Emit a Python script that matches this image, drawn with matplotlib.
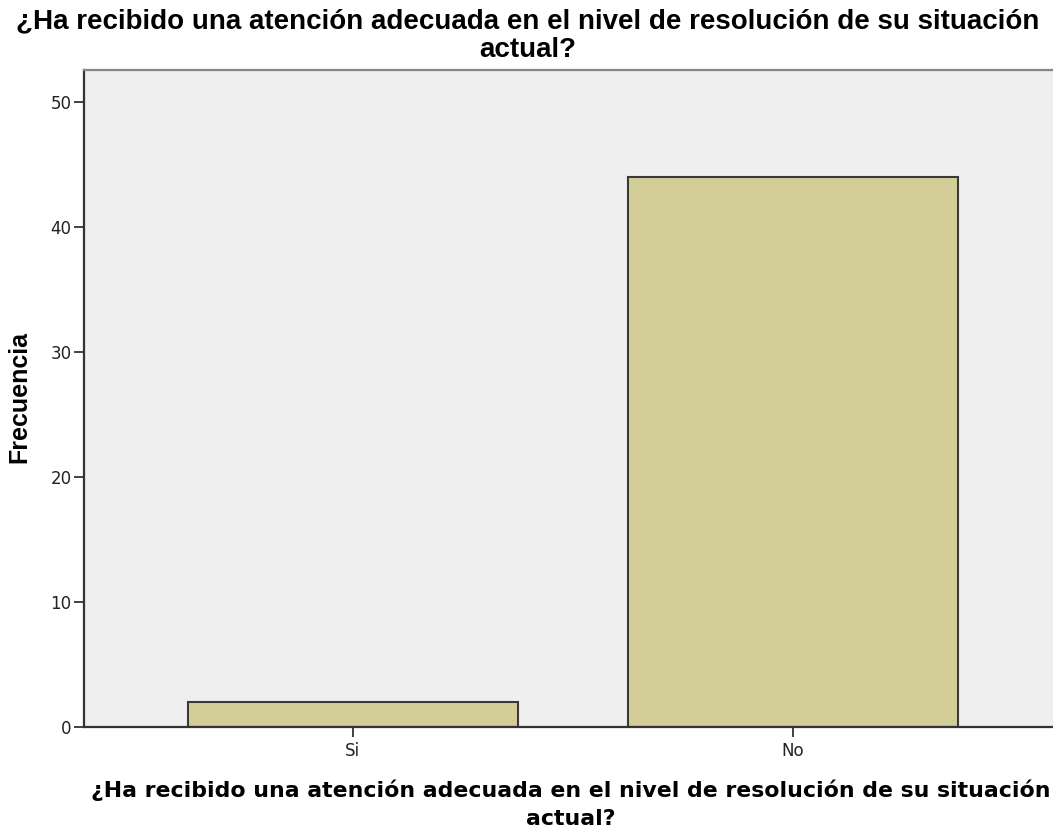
import matplotlib.pyplot as plt

# datos
categorias = ['Si', 'No']
frecuencias = [2, 44]
yticks = [0, 10, 20, 30, 40, 50]

titulo_l1 = '¿Ha recibido una atención adecuada en el nivel de resolución de su situación'
titulo_l2 = 'actual?'

W, H = 1053, 827
fig = plt.figure(figsize=(W / 100, H / 100), dpi=100)
ax = fig.add_axes([84 / W, (H - 727) / H, (W - 84 + 20) / W, 657 / H])
ax.set_facecolor('#efefef')

x = list(range(len(categorias)))
ax.bar(x, frecuencias, width=0.75, color='#d3ce98', edgecolor='#3a3a3a', linewidth=1.5)

# limites: la zona de datos continua mas alla del borde derecho
ax.set_xlim(-0.611, 1.0 + (W + 20 - 793) / 440)
ax.set_ylim(0, 52.56)
ax.set_xticks(x)
ax.set_xticklabels(categorias, fontsize=12, color='#222222')
ax.set_yticks(yticks)
ax.set_yticklabels([str(t) for t in yticks], fontsize=12, color='#222222')
ax.tick_params(axis='y', length=7.5, width=1.3, color='#333333', pad=1.5)
ax.tick_params(axis='x', length=7.5, width=1.3, color='#333333', pad=3)

ax.spines['right'].set_visible(False)
ax.spines['top'].set_color('#858585')
ax.spines['top'].set_linewidth(1.6)
for s in ['left', 'bottom']:
    ax.spines[s].set_color('#333333')
    ax.spines[s].set_linewidth(1.6)

# etiqueta del eje y
fig.text(19 / W, 1 - 397 / H, 'Frecuencia', rotation=90, ha='center', va='center',
         fontsize=18, fontweight='bold', family='Liberation Sans')

# titulo (dos lineas)
fig.text(528 / W, 1 - 28 / H, titulo_l1, ha='center', va='baseline', fontsize=20,
         fontweight='bold', family='Liberation Sans')
fig.text(528 / W, 1 - 57 / H, titulo_l2, ha='center', va='baseline', fontsize=20,
         fontweight='bold', family='Liberation Sans')

# etiqueta del eje x (dos lineas)
fig.text(571 / W, 1 - 797 / H, titulo_l1, ha='center', va='baseline', fontsize=15.85,
         fontweight='bold', family='DejaVu Sans')
fig.text(571 / W, 1 - 825 / H, titulo_l2, ha='center', va='baseline', fontsize=15.85,
         fontweight='bold', family='DejaVu Sans')

plt.savefig('out.png', dpi=100)
